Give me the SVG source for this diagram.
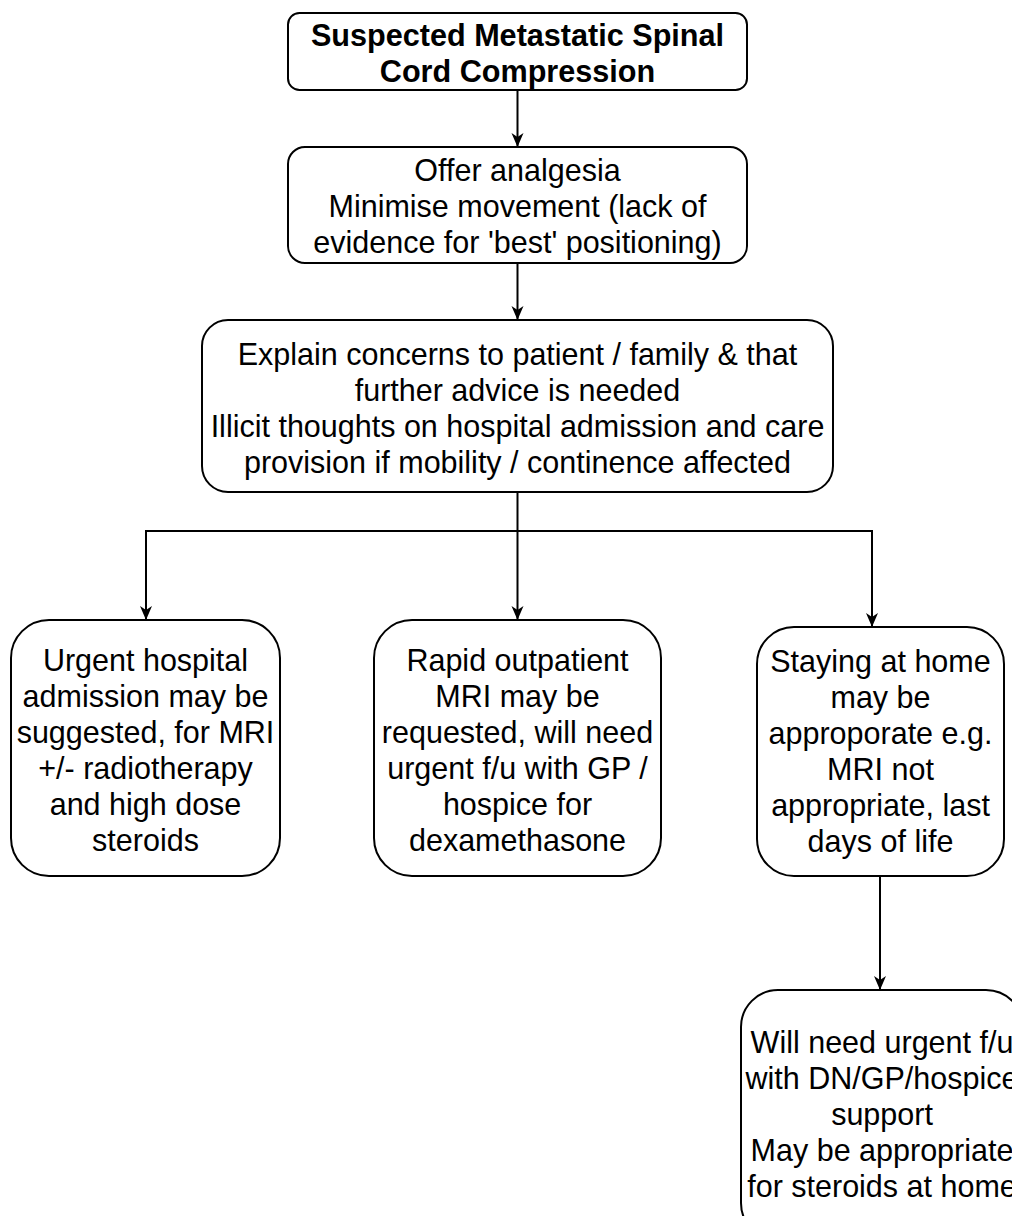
<svg xmlns="http://www.w3.org/2000/svg" width="1012" height="1216" viewBox="0 0 1012 1216">
  <style>
    .box { fill: #ffffff; stroke: #000000; stroke-width: 2; }
    .lbl { font-family: "Liberation Sans", Arial, sans-serif; font-size: 30.5px; fill: #000000; text-anchor: middle; }
    .bold { font-weight: bold; font-size: 30.6px; }
    .edge { fill: none; stroke: #000000; stroke-width: 2; marker-end: url(#arrow); }
  </style>
  <defs>
    <marker id="arrow" viewBox="0 0 14 14" markerWidth="14" markerHeight="14" refX="14" refY="7" orient="auto" markerUnits="userSpaceOnUse">
      <path d="M0 1 L14 7 L0 13 L4 7 Z" fill="#000000"/>
    </marker>
  </defs>
  <rect width="1012" height="1216" fill="#ffffff"/>

  <!-- connectors -->
  <g id="connectors">
    <path class="edge" d="M517.5 90 V147"/>
    <path class="edge" d="M517.5 263 V320"/>
    <path class="edge" d="M517.5 492 V620"/>
    <path class="edge" d="M517.5 531 H146 V620"/>
    <path class="edge" d="M517.5 531 H872 V627"/>
    <path class="edge" d="M880 876 V990"/>
  </g>

  <g id="suspected-mscc">
    <rect class="box" x="288" y="13" width="459" height="77" rx="11.5" ry="11.5"/>
    <text class="lbl bold" x="517.5" y="46">Suspected Metastatic Spinal</text>
    <text class="lbl bold" x="517.5" y="82">Cord Compression</text>
  </g>

  <g id="analgesia">
    <rect class="box" x="288" y="147" width="459" height="116" rx="17" ry="17"/>
    <text class="lbl" x="517.5" y="181">Offer analgesia</text>
    <text class="lbl" x="517.5" y="217">Minimise movement (lack of</text>
    <text class="lbl" x="517.5" y="253">evidence for 'best' positioning)</text>
  </g>

  <g id="explain">
    <rect class="box" x="202" y="320" width="631" height="172" rx="26" ry="26"/>
    <text class="lbl" x="517.5" y="365">Explain concerns to patient / family &amp; that</text>
    <text class="lbl" x="517.5" y="401">further advice is needed</text>
    <text class="lbl" x="517.5" y="437">Illicit thoughts on hospital admission and care</text>
    <text class="lbl" x="517.5" y="473">provision if mobility / continence affected</text>
  </g>

  <g id="hospital-admission">
    <rect class="box" x="11" y="620" width="269" height="256" rx="38" ry="38"/>
    <text class="lbl" x="145.5" y="671">Urgent hospital</text>
    <text class="lbl" x="145.5" y="707">admission may be</text>
    <text class="lbl" x="145.5" y="743">suggested, for MRI</text>
    <text class="lbl" x="145.5" y="779">+/- radiotherapy</text>
    <text class="lbl" x="145.5" y="815">and high dose</text>
    <text class="lbl" x="145.5" y="851">steroids</text>
  </g>

  <g id="outpatient-mri">
    <rect class="box" x="374" y="620" width="287" height="256" rx="38" ry="38"/>
    <text class="lbl" x="517.5" y="671">Rapid outpatient</text>
    <text class="lbl" x="517.5" y="707">MRI may be</text>
    <text class="lbl" x="517.5" y="743">requested, will need</text>
    <text class="lbl" x="517.5" y="779">urgent f/u with GP /</text>
    <text class="lbl" x="517.5" y="815">hospice for</text>
    <text class="lbl" x="517.5" y="851">dexamethasone</text>
  </g>

  <g id="staying-home">
    <rect class="box" x="757" y="627" width="247" height="249" rx="37" ry="37"/>
    <text class="lbl" x="880.5" y="672">Staying at home</text>
    <text class="lbl" x="880.5" y="708">may be</text>
    <text class="lbl" x="880.5" y="744">approporate e.g.</text>
    <text class="lbl" x="880.5" y="780">MRI not</text>
    <text class="lbl" x="880.5" y="816">appropriate, last</text>
    <text class="lbl" x="880.5" y="852">days of life</text>
  </g>

  <g id="community-followup">
    <rect class="box" x="741" y="990" width="282" height="250" rx="37" ry="37"/>
    <text class="lbl" x="882" y="1053">Will need urgent f/u</text>
    <text class="lbl" x="882" y="1089">with DN/GP/hospice</text>
    <text class="lbl" x="882" y="1125">support</text>
    <text class="lbl" x="882" y="1161">May be appropriate</text>
    <text class="lbl" x="882" y="1197">for steroids at home</text>
  </g>
</svg>
